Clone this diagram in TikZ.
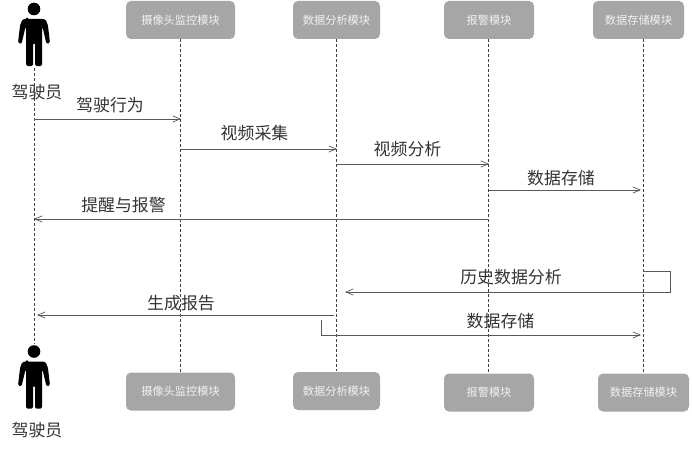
\documentclass[tikz,border=0pt]{standalone}
\usepackage{fontspec}
\setmainfont{Noto Sans CJK SC}
\usetikzlibrary{arrows.meta}
\definecolor{boxgray}{HTML}{A6A6A6}
\definecolor{textgray}{HTML}{333333}
\tikzstyle{module}=[rectangle, rounded corners=5pt, fill=boxgray, text=white!85!boxgray, font=\fontsize{11.2}{13}\selectfont, minimum height=38pt, inner sep=0pt]
\tikzstyle{msg}=[text=textgray, font=\fontsize{16.9}{19}\selectfont, inner sep=0pt]
\tikzstyle{lifeline}=[draw=black!75, dashed, dash pattern=on 3pt off 2pt, line width=0.6pt]
\tikzstyle{arrow}=[draw=black!65, line width=0.7pt, ->, >={Straight Barb[length=2.6mm, width=2.2mm]}]
\tikzset{
	person/.pic={
		\fill (0,-58) circle (6.3);
		\fill[rounded corners=1.5pt] (-7,-48) -- (7,-48) .. controls (12,-48) and (13,-45) .. (14,-41) -- (16,-24) -- (12.5,-23) -- (8.5,-40) -- (8,-40) -- (8,-1) -- (1,-1) -- (1,-24) -- (-1,-24) -- (-1,-1) -- (-8,-1) -- (-8,-40) -- (-8.5,-40) -- (-12.5,-23) -- (-16,-24) -- (-14,-41) .. controls (-13,-45) and (-12,-48) .. (-7,-48) -- cycle;
	}
}
\begin{document}
\begin{tikzpicture}[x=1pt, y=1pt]
	\useasboundingbox (0,0) rectangle (692,451);
	\begin{scope}[shift={(0,451)}, y=-1pt]
		% top row
		\node (camtop) at (180.5, 20)[module, minimum width=109pt] {摄像头监控模块};
		\node (anatop) at (336.5, 20)[module, minimum width=87pt] {数据分析模块};
		\node (alatop) at (489, 20)[module, minimum width=90pt] {报警模块};
		\node (stotop) at (638.5, 20)[module, minimum width=91pt] {数据存储模块};
		% bottom row
		\node (cambot) at (180.5, 391.5)[module, minimum width=109pt] {摄像头监控模块};
		\node (anabot) at (336.5, 391)[module, minimum width=87pt] {数据分析模块};
		\node (alabot) at (489, 392.5)[module, minimum width=90pt] {报警模块};
		\node (stobot) at (643.5, 392.5)[module, minimum width=91pt] {数据存储模块};
		% drivers
		\pic at (34, 67) {person};
		\pic at (34, 409.5) {person};
		\coordinate (drvtop) at (34, 68);
		\coordinate (drvbot) at (34, 344);
		\coordinate (camt) at (180.7, 39);
		\coordinate (camb) at (180.7, 372);
		\coordinate (anat) at (336, 39);
		\coordinate (anab) at (336, 371);
		\coordinate (alat) at (488.7, 39);
		\coordinate (alab) at (488.7, 373);
		\coordinate (stot) at (643, 39);
		\coordinate (stob) at (643, 373);
		% lifelines
		\path [lifeline] (drvtop) -- (drvbot);
		\path [lifeline] (camt) -- (camb);
		\path [lifeline] (anat) -- (anab);
		\path [lifeline] (alat) -- (alab);
		\path [lifeline] (stot) -- (stob);
		\node (drvlabel) at (37, 92.5)[msg] {驾驶员};
		\node (drvlabelb) at (37, 430.5)[msg] {驾驶员};
		% messages
		\coordinate (m1a) at (34, 119);
		\coordinate (m1b) at (181, 119);
		\coordinate (m2a) at (181, 149);
		\coordinate (m2b) at (337, 149);
		\coordinate (m3a) at (336, 164);
		\coordinate (m3b) at (489, 164);
		\coordinate (m4a) at (489, 190);
		\coordinate (m4b) at (641, 190);
		\coordinate (m5a) at (489, 219);
		\coordinate (m5b) at (34, 219);
		\coordinate (m6a) at (643, 271);
		\coordinate (m6c) at (670, 271);
		\coordinate (m6d) at (670, 292);
		\coordinate (m6b) at (345, 292);
		\coordinate (m7a) at (334, 315);
		\coordinate (m7b) at (37, 315);
		\coordinate (m8a) at (321, 320);
		\coordinate (m8c) at (321, 335);
		\coordinate (m8b) at (641, 335);
		\path [arrow] (m1a) -- (m1b);
		\path [arrow] (m2a) -- (m2b);
		\path [arrow] (m3a) -- (m3b);
		\path [arrow] (m4a) -- (m4b);
		\path [arrow] (m5a) -- (m5b);
		\path [arrow] (m6a) -- (m6c) -- (m6d) -- (m6b);
		\path [arrow] (m7a) -- (m7b);
		\path [arrow] (m8a) -- (m8c) -- (m8b);
		\node (t1) at (110, 105.5)[msg] {驾驶行为};
		\node (t2) at (254.5, 133.5)[msg] {视频采集};
		\node (t3) at (407.5, 149.5)[msg] {视频分析};
		\node (t4) at (561, 178.5)[msg] {数据存储};
		\node (t5) at (123.5, 205.5)[msg] {提醒与报警};
		\node (t6) at (511, 277.5)[msg] {历史数据分析};
		\node (t7) at (181, 303.5)[msg] {生成报告};
		\node (t8) at (500.5, 321.5)[msg] {数据存储};
	\end{scope}
\end{tikzpicture}
\end{document}
